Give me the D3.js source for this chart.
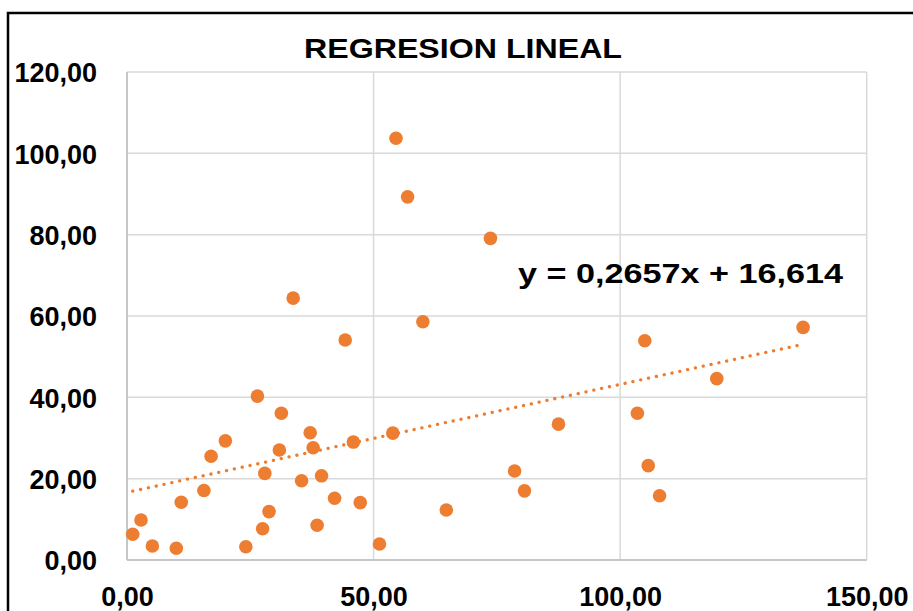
<!DOCTYPE html>
<html>
<head>
<meta charset="utf-8">
<script src="https://cdn.jsdelivr.net/npm/d3@7"></script>
<style>
  html, body { margin: 0; padding: 0; background: #ffffff; }
  svg { display: block; }
  text { font-family: "Liberation Sans", Arial, Helvetica, sans-serif; font-weight: bold; fill: #000; }
</style>
</head>
<body>
<svg id="chart" width="913" height="611"></svg>
<script>
// ---- data ----
const xValues = [1.16, 2.84, 5.14, 10.0, 11.0, 15.6, 17.05, 19.95, 24.1, 26.45,
                 27.5, 27.95, 28.8, 30.9, 31.3, 33.7, 35.4, 37.15, 37.75, 38.55,
                 39.45, 42.1, 44.25, 45.9, 47.3, 51.2, 53.9, 54.55, 56.9, 60.0,
                 64.75, 73.7, 78.6, 80.6, 87.5, 103.5, 105.0, 105.7, 108.0, 119.6, 137.1];
const yValues = [6.32, 9.84, 3.44, 2.88, 14.2, 17.1, 25.5, 29.3, 3.27, 40.3,
                 7.7, 21.3, 11.9, 27.05, 36.1, 64.4, 19.5, 31.3, 27.6, 8.53,
                 20.7, 15.2, 54.1, 29.0, 14.1, 3.93, 31.2, 103.7, 89.3, 58.6,
                 12.3, 79.1, 21.9, 17.0, 33.4, 36.1, 53.9, 23.2, 15.8, 44.6, 57.2];
const xTicks = [0, 50, 100, 150];
const yTicks = [0, 20, 40, 60, 80, 100, 120];
const trendSlope = 0.2657;
const trendIntercept = 16.614;
const titleText = "REGRESION LINEAL";
const equationText = "y = 0,2657x + 16,614";

(function () {
const svg = d3.select("#chart");
const locale = d3.formatLocale({decimal: ",", thousands: ".", grouping: [3], currency: ["", "€"]});
const fmt = locale.format(".2f");

const pL = 127, pR = 866.7, pT = 72, pB = 560;
const x = d3.scaleLinear().domain([0, 150]).range([pL, pR]);
const y = d3.scaleLinear().domain([0, 120]).range([pB, pT]);

const orange = "#ED7D31";

// outer frame
svg.append("rect")
  .attr("x", 8).attr("y", 13)
  .attr("width", 1000).attr("height", 700)
  .attr("fill", "none").attr("stroke", "#000").attr("stroke-width", 2.5);

// gridlines
svg.append("g").selectAll("line").data(yTicks).join("line")
  .attr("x1", pL).attr("x2", pR)
  .attr("y1", d => y(d)).attr("y2", d => y(d))
  .attr("stroke", "#d9d9d9").attr("stroke-width", 1.5);
svg.append("g").selectAll("line").data(xTicks).join("line")
  .attr("x1", d => x(d)).attr("x2", d => x(d))
  .attr("y1", pT).attr("y2", pB)
  .attr("stroke", "#d9d9d9").attr("stroke-width", 1.5);

// axis lines
svg.append("line").attr("x1", pL).attr("x2", pR).attr("y1", pB).attr("y2", pB)
  .attr("stroke", "#c6c6c6").attr("stroke-width", 2);
svg.append("line").attr("x1", pL).attr("x2", pL).attr("y1", pT).attr("y2", pB)
  .attr("stroke", "#c6c6c6").attr("stroke-width", 2);

// axes (labels only)
const yAxis = d3.axisLeft(y).tickValues(yTicks).tickFormat(fmt).tickSize(0).tickPadding(30);
const gy = svg.append("g").attr("transform", `translate(${pL},0)`).call(yAxis);
gy.select(".domain").remove();
gy.selectAll("text")
  .style("font-family", '"Liberation Sans", Arial, sans-serif')
  .style("font-weight", "bold").style("font-size", "27px").attr("fill", "#000")
  .attr("dy", "0.36em");

const xAxis = d3.axisBottom(x).tickValues(xTicks).tickFormat(fmt).tickSize(0).tickPadding(27);
const gx = svg.append("g").attr("transform", `translate(0,${pB})`).call(xAxis);
gx.select(".domain").remove();
gx.selectAll("text")
  .style("font-family", '"Liberation Sans", Arial, sans-serif')
  .style("font-weight", "bold").style("font-size", "27px").attr("fill", "#000");

// trendline
const xExt = d3.extent(xValues);
const trendData = [xExt[0], xExt[1]].map(v => [v, trendSlope * v + trendIntercept]);
svg.append("path")
  .datum(trendData)
  .attr("d", d3.line().x(d => x(d[0])).y(d => y(d[1])))
  .attr("fill", "none").attr("stroke", orange)
  .attr("stroke-width", 3.3).attr("stroke-linecap", "round")
  .attr("stroke-dasharray", "0.1 7.9");

// points
const pts = xValues.map((v, i) => ({x: v, y: yValues[i]}));
svg.append("g").selectAll("circle").data(pts).join("circle")
  .attr("cx", d => x(d.x)).attr("cy", d => y(d.y))
  .attr("r", 6.8).attr("fill", orange);

// title
svg.append("text")
  .attr("x", 463).attr("y", 58)
  .attr("text-anchor", "middle")
  .style("font-size", "28px")
  .attr("textLength", 318).attr("lengthAdjust", "spacingAndGlyphs")
  .text(titleText);

// equation
svg.append("text")
  .attr("x", 518).attr("y", 283)
  .style("font-size", "28px")
  .attr("textLength", 325).attr("lengthAdjust", "spacingAndGlyphs")
  .text(equationText);
})();
</script>
</body>
</html>
